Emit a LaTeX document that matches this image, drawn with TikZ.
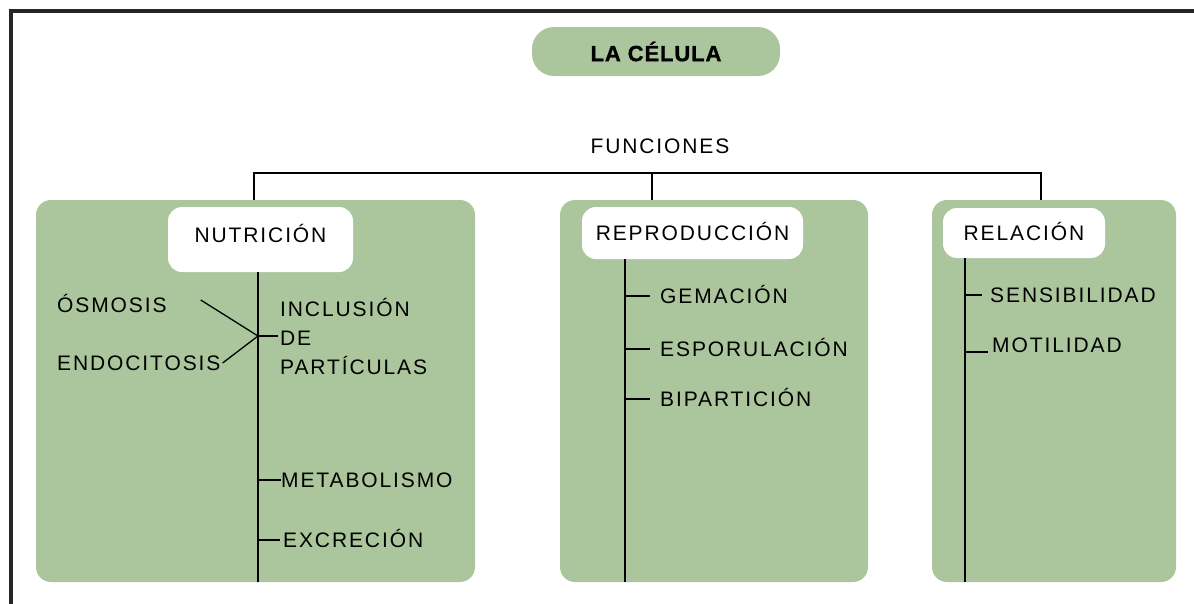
\documentclass[tikz,border=0pt]{standalone}
\usepackage{fontspec}
\setmainfont{Liberation Sans}[LetterSpace=9]
\newfontfamily\titlefont{Liberation Sans}[LetterSpace=4, FakeBold=1.2]
\usetikzlibrary{positioning}
\definecolor{sage}{HTML}{ABC69D}

\begin{document}
\begin{tikzpicture}[
    x=1pt, y=-1pt,
    panel/.style={fill=sage, rounded corners=15pt, inner sep=0pt},
    tag/.style={fill=white, rounded corners=14pt, inner sep=0pt, text height=15pt, text depth=0pt, font=\fontsize{21}{25}\selectfont},
    leaf/.style={inner sep=0pt, anchor=west, text height=15pt, text depth=0pt, font=\fontsize{21}{25}\selectfont},
    stack/.style={inner sep=0pt, anchor=west, align=left, font=\fontsize{21}{29}\selectfont},
    link/.style={line width=1.3pt}
]
    \useasboundingbox (0,0) rectangle (1194,603);
    % outer frame
    \draw[line width=4pt, black!85] (11,620) -- (11,11) -- (1210,11);

    % title and functions
    \node[panel, rounded corners=22pt, minimum width=248pt, minimum height=49pt, font=\titlefont\bfseries\fontsize{22}{26}\selectfont] (cell) at (656,51.5) {LA CÉLULA};
    \node[leaf, anchor=center] (fun) at (660,146) {FUNCIONES};

    % panels
    \node[panel, minimum width=439pt, minimum height=382pt] (nutbox) at (255.5,391) {};
    \node[panel, minimum width=308pt, minimum height=382pt] (repbox) at (714,391) {};
    \node[panel, minimum width=244pt, minimum height=382pt] (relbox) at (1054,391) {};

    \node[tag, text depth=9pt, minimum width=185pt, minimum height=65pt] (nut) at (260.5,239.5) {NUTRICIÓN};
    \node[tag, minimum width=221pt, minimum height=52pt] (rep) at (692.5,233) {REPRODUCCIÓN};
    \node[tag, minimum width=162pt, minimum height=50pt] (rel) at (1024,233) {RELACIÓN};

    % bar below FUNCIONES
    \coordinate (lft) at (254,173);
    \coordinate (hub) at (652,173);
    \coordinate (rgt) at (1041,173);
    \draw[link] (lft |- nutbox.north) -- (lft) -- (rgt) -- (rgt |- relbox.north);
    \draw[link] (hub) -- (hub |- repbox.north);

    % trunks
    \coordinate (nutfoot) at (258,582);
    \coordinate (repfoot) at (625,582);
    \coordinate (relfoot) at (965,582);
    \draw[link] (nut.south -| nutfoot) -- (nutfoot);
    \draw[link] (rep.south -| repfoot) -- (repfoot);
    \draw[link] (rel.south -| relfoot) -- (relfoot);

    % nutricion
    \node[leaf] (osm) at (57,305) {ÓSMOSIS};
    \node[leaf] (endo) at (57,363) {ENDOCITOSIS};
    \node[stack] (inc) at (280,336) {INCLUSIÓN\\DE\\PARTÍCULAS};
    \node[leaf] (met) at (281,480) {METABOLISMO};
    \node[leaf] (exc) at (283,540) {EXCRECIÓN};
    \coordinate (join) at (258,336);
    \draw[link] ([shift={(34,-5)}]osm.east) -- (join);
    \draw[link] ([xshift=2pt]endo.east) -- (join);
    \draw[link] (join) -- ([xshift=-2pt]inc.west);
    \draw[link] (met.west -| nutfoot) -- (met.west);
    \draw[link] (exc.west -| nutfoot) -- ([xshift=-3pt]exc.west);

    % reproduccion
    \node[leaf] (gem) at (660,296) {GEMACIÓN};
    \node[leaf] (esp) at (660,349) {ESPORULACIÓN};
    \node[leaf] (bip) at (660,399) {BIPARTICIÓN};
    \foreach \n in {gem,esp,bip}
        \draw[link] (\n.west -| repfoot) -- ([xshift=-10pt]\n.west);

    % relacion
    \node[leaf] (sen) at (990,295) {SENSIBILIDAD};
    \node[leaf] (mot) at (992,345) {MOTILIDAD};
    \coordinate (motend) at ([shift={(-4,-0.5)}]mot.base west);
    \draw[link] (sen.west -| relfoot) -- ([xshift=-8pt]sen.west);
    \draw[link] (motend -| relfoot) -- (motend);
\end{tikzpicture}
\end{document}
